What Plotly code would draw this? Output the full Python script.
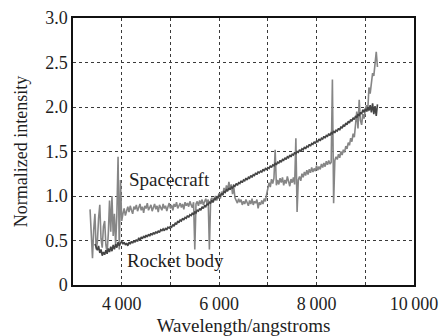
import plotly.graph_objects as go

# Sampling grid (angstroms)
sc_start, rb_start, step = 3350, 3450, 25

spacecraft = [
    0.85, 0.55, 0.30, 0.62, 0.80, 0.40, 0.48, 0.75,
    0.90, 0.52, 0.42, 0.66, 0.72, 0.45, 0.36, 0.58,
    0.95, 0.60, 1.00, 0.55, 0.80, 0.45, 0.78, 1.44,
    0.40, 1.18, 0.72, 0.80, 0.86, 0.78, 0.84, 0.88,
    0.82, 0.89, 0.84, 0.80, 0.88, 0.85, 0.90, 0.83,
    0.87, 0.91, 0.84, 0.88, 0.81, 0.89, 0.86, 0.92,
    0.84, 0.88, 0.90, 0.83, 0.87, 0.91, 0.85, 0.89,
    0.82, 0.90, 0.87, 0.84, 0.91, 0.86, 0.89, 0.83,
    0.88, 0.92, 0.86, 0.90, 0.84, 0.91, 0.88, 0.93,
    0.86, 0.90, 0.92, 0.87, 0.91, 0.85, 0.93, 0.89,
    0.92, 0.88, 0.94, 0.90, 0.87, 0.93, 0.40, 0.91,
    0.94, 0.89, 0.95, 0.91, 0.96, 0.90, 0.93, 0.97,
    0.92, 0.96, 0.40, 0.95, 0.98, 0.93, 0.97, 1.00,
    0.95, 0.99, 1.03, 0.97, 1.05, 1.01, 1.09, 1.04,
    1.12, 1.06, 1.16, 1.08, 1.13, 1.02, 1.10, 0.98,
    0.95, 0.92, 0.97, 0.93, 0.96, 0.90, 0.94, 0.91,
    0.96, 0.92, 0.89, 0.95, 0.91, 0.97, 0.90, 0.94,
    0.92, 0.96, 0.86, 0.93, 0.90, 0.95, 0.91, 0.97,
    0.94, 1.02, 1.08, 1.15, 1.10, 1.19, 1.14, 1.20,
    1.52, 1.12, 1.18, 1.13, 1.20, 1.15, 1.21, 1.12,
    1.18, 1.14, 1.22, 1.16, 1.11, 1.19, 1.15, 1.21,
    1.13, 1.65, 0.82, 1.18, 1.22, 1.17, 1.25, 1.21,
    1.27, 1.23, 1.29, 1.24, 1.30, 1.26, 1.32, 1.27,
    1.31, 1.28, 1.34, 1.29, 1.33, 1.30, 1.36, 1.32,
    1.37, 1.33, 1.39, 1.35, 1.40, 1.36, 1.38, 2.31,
    0.92, 1.40, 1.44, 1.41, 1.47, 1.43, 1.50, 1.46,
    1.52, 1.49, 1.56, 1.53, 1.60, 1.57, 1.65, 1.61,
    1.70, 1.66, 1.78, 1.95, 1.76, 2.08, 1.85, 1.80,
    1.92, 1.87, 1.97, 2.02, 1.95, 2.22, 2.15, 2.30,
    2.38, 2.35, 2.50, 2.62, 2.45,
]

rocket_body = [
    0.46, 0.42, 0.39, 0.44, 0.36, 0.40, 0.33, 0.37,
    0.34, 0.39, 0.35, 0.41, 0.37, 0.43, 0.38, 0.45,
    0.40, 0.46, 0.42, 0.48, 0.44, 0.47, 0.49, 0.46,
    0.48, 0.45, 0.47, 0.44, 0.48, 0.46, 0.49, 0.47,
    0.50, 0.48, 0.51, 0.49, 0.53, 0.50, 0.54, 0.52,
    0.55, 0.53, 0.56, 0.54, 0.57, 0.55, 0.58, 0.56,
    0.59, 0.57, 0.60, 0.58, 0.61, 0.59, 0.62, 0.61,
    0.63, 0.61, 0.64, 0.62, 0.65, 0.64, 0.66, 0.65,
    0.68, 0.66, 0.70, 0.68, 0.72, 0.70, 0.73, 0.72,
    0.75, 0.73, 0.76, 0.75, 0.78, 0.76, 0.79, 0.78,
    0.81, 0.79, 0.82, 0.81, 0.84, 0.83, 0.86, 0.84,
    0.88, 0.86, 0.89, 0.88, 0.91, 0.90, 0.93, 0.92,
    0.95, 0.93, 0.97, 0.96, 0.99, 0.98, 1.01, 1.00,
    1.03, 1.01, 1.05, 1.04, 1.07, 1.06, 1.09, 1.07,
    1.10, 1.09, 1.12, 1.11, 1.14, 1.12, 1.15, 1.14,
    1.17, 1.15, 1.18, 1.17, 1.20, 1.18, 1.21, 1.20,
    1.23, 1.21, 1.24, 1.23, 1.26, 1.24, 1.27, 1.26,
    1.28, 1.27, 1.30, 1.28, 1.31, 1.30, 1.32, 1.31,
    1.34, 1.32, 1.35, 1.34, 1.37, 1.35, 1.38, 1.37,
    1.40, 1.38, 1.41, 1.40, 1.43, 1.41, 1.44, 1.43,
    1.46, 1.44, 1.47, 1.46, 1.49, 1.47, 1.50, 1.49,
    1.52, 1.50, 1.53, 1.52, 1.55, 1.53, 1.56, 1.55,
    1.58, 1.56, 1.59, 1.58, 1.61, 1.59, 1.62, 1.61,
    1.64, 1.62, 1.65, 1.64, 1.67, 1.65, 1.68, 1.67,
    1.70, 1.68, 1.71, 1.70, 1.73, 1.71, 1.74, 1.73,
    1.76, 1.74, 1.78, 1.76, 1.80, 1.78, 1.82, 1.80,
    1.84, 1.82, 1.86, 1.84, 1.88, 1.86, 1.90, 1.88,
    1.92, 1.90, 1.94, 1.92, 1.97, 1.94, 1.98, 1.95,
    2.00, 1.96, 2.02, 1.94, 2.04, 1.92, 2.01, 1.90,
    2.03,
]

sc_wl = [sc_start + i * step for i in range(len(spacecraft))]
rb_wl = [rb_start + i * step for i in range(len(rocket_body))]

x_major = [4000, 6000, 8000, 10000]
x_major_text = ["4\u2009000", "6\u2009000", "8\u2009000", "10\u2009000"]
x_minor = [5000, 7000, 9000]
y_ticks = [0, 0.5, 1.0, 1.5, 2.0, 2.5, 3.0]
y_text = ["0", "0.5", "1.0", "1.5", "2.0", "2.5", "3.0"]

FONT = "Liberation Serif"
TXT = "#1e1e1e"

fig = go.Figure()
fig.add_trace(go.Scatter(x=sc_wl, y=spacecraft, mode="lines",
                         line=dict(color="#868686", width=1.6), showlegend=False))
fig.add_trace(go.Scatter(x=rb_wl, y=rocket_body, mode="lines",
                         line=dict(color="#444444", width=1.6), showlegend=False))

fig.add_annotation(x=4100, y=1.18, text="Spacecraft", showarrow=False,
                   xanchor="left", yanchor="middle",
                   font=dict(family=FONT, size=19, color=TXT))
fig.add_annotation(x=4060, y=0.28, text="Rocket body", showarrow=False,
                   xanchor="left", yanchor="middle",
                   font=dict(family=FONT, size=19, color=TXT))

grid = dict(showgrid=True, gridcolor="#3a3a3a", gridwidth=1.4, griddash="dot")
fig.update_xaxes(range=[3000, 10000], tickvals=x_major, ticktext=x_major_text,
                 showline=True, linecolor="#111", linewidth=1.5, mirror=True,
                 ticks="", zeroline=False, automargin=False,
                 ticklabelstandoff=2, **grid,
                 minor=dict(tickvals=x_minor, showgrid=True, gridcolor="#3a3a3a",
                            gridwidth=1.4, griddash="dot", ticks=""),
                 title=dict(text="Wavelength/angstroms", standoff=5,
                            font=dict(family=FONT, size=19, color=TXT)),
                 tickfont=dict(family=FONT, size=18, color=TXT))
fig.update_yaxes(range=[0, 3.0], tickvals=y_ticks, ticktext=y_text,
                 showline=True, linecolor="#111", linewidth=1.5, mirror=True,
                 ticks="", zeroline=False, automargin=False,
                 title=dict(text="Normalized intensity", standoff=13,
                            font=dict(family=FONT, size=18, color=TXT)),
                 **grid,
                 tickfont=dict(family=FONT, size=18, color=TXT))

fig.update_layout(width=440, height=336,
                  margin=dict(l=73, r=26, t=18, b=51, autoexpand=False),
                  plot_bgcolor="white", paper_bgcolor="white")

fig.write_html("out.html")
